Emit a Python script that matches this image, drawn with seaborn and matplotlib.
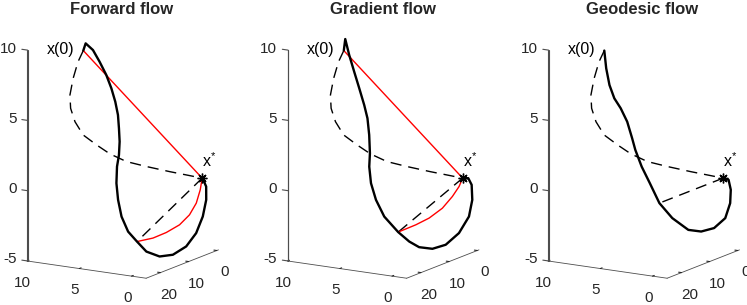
import matplotlib
matplotlib.use('Agg')  # Use non-GUI backend
import matplotlib.pyplot as plt
import seaborn as sns
import numpy as np

sns.set_style('white')
plt.rcParams['font.family'] = ['Liberation Sans', 'DejaVu Sans']
plt.rcParams['mathtext.fontset'] = 'custom'
plt.rcParams['mathtext.rm'] = 'Liberation Sans'
plt.rcParams['axes.unicode_minus'] = False

W, H = 747, 305

titles = ['Forward flow', 'Gradient flow', 'Geodesic flow']
x_ticks = [0, 5, 10]
y_ticks = [0, 10, 20]
z_ticks = [-5, 0, 5, 10]

start_pt = [6.0, 20.0, 10.0]   # x(0)
opt_pt = [0.0, 0.0, 0.0]       # x*

# dashed reference path from x(0) to x* (same in every panel)
ref_x = [6.0, 6.83, 7.70, 8.44, 8.70, 8.63, 8.22, 7.37, 6.47, 5.34, 3.94, 2.30, 0.88, 0.0]
ref_y = [20.0, 18.8, 17.3, 15.7, 14.5, 13.2, 11.8, 10.2, 8.8, 7.1, 5.2, 3.0, 1.2, 0.0]
ref_z = [10.0, 9.02, 7.63, 6.24, 5.17, 4.12, 3.11, 2.37, 1.72, 1.16, 0.81, 0.45, 0.18, 0.0]

# forward flow trajectory
fwd_x = [6.0, 5.89, 5.34, 4.91, 4.50, 4.23, 4.07, 4.02, 4.13, 4.27, 4.54, 4.91, 5.22, 5.32,
         5.25, 4.87, 4.25, 3.54, 2.49, 1.42, 0.39, -0.31, -0.67, -0.74, -0.53, -0.18, 0.0]
fwd_y = [20.0, 19.57, 19.01, 18.24, 17.39, 16.59, 15.79, 15.02, 14.26, 13.50, 12.74, 12.06,
         11.12, 10.16, 9.19, 8.26, 7.40, 6.70, 5.89, 5.13, 4.23, 3.28, 2.26, 1.30, 0.54, 0.17, 0.0]
fwd_z = [10.0, 10.49, 10.03, 9.18, 8.22, 7.24, 6.24, 5.24, 4.22, 3.20, 2.16, 1.24, -0.05,
         -1.32, -2.58, -3.68, -4.39, -5.08, -5.38, -5.20, -4.57, -3.62, -2.48, -1.36, -0.50, -0.14, 0.0]
fwd_hit = 16
fwd_arc_x = [0.0, -0.06, 0.04, 0.41, 1.08, 2.04, 3.03, 4.25]
fwd_arc_y = [0.0, 0.90, 1.94, 2.98, 4.03, 5.17, 6.24, 7.40]
fwd_arc_z = [0.0, -0.75, -1.63, -2.42, -3.12, -3.68, -4.10, -4.39]

# gradient flow trajectory
grad_x = [6.0, 6.05, 5.92, 5.71, 5.49, 5.28, 5.18, 5.27, 5.48, 5.75, 5.84, 5.63, 5.12, 4.09,
          3.26, 2.49, 1.42, 0.36, -0.64, -1.30, -1.36, -1.07, -0.63, 0.0]
grad_y = [20.0, 19.30, 18.37, 17.38, 16.40, 15.41, 14.63, 13.68, 12.64, 11.88, 10.93, 9.94,
          8.88, 7.75, 6.90, 6.24, 5.48, 4.69, 3.68, 2.58, 1.62, 0.77, 0.34, 0.0]
grad_z = [10.0, 10.76, 9.56, 8.32, 7.09, 5.84, 4.85, 3.58, 2.17, 1.13, -0.13, -1.37, -2.59,
          -3.67, -4.32, -4.69, -4.75, -4.41, -3.55, -2.39, -1.27, -0.30, 0.09, 0.0]
grad_hit = 13
grad_arc_x = [0.0, 0.13, 0.48, 1.07, 1.94, 2.85, 4.09]
grad_arc_y = [0.0, 0.80, 1.87, 3.24, 4.72, 6.05, 7.75]
grad_arc_z = [0.0, -0.55, -1.21, -2.00, -2.68, -3.15, -3.67]

# geodesic flow trajectory
geo_x = [6.0, 6.16, 6.16, 5.96, 5.57, 5.22, 5.07, 4.99, 4.71, 4.27, 3.77, 2.90, 1.73, 0.74,
         -0.25, -1.04, -1.22, -1.03, -0.63, 0.0]
geo_y = [20.0, 18.73, 17.57, 16.59, 15.77, 14.75, 13.56, 12.72, 11.49, 10.22, 8.69, 7.33,
         5.96, 5.07, 4.15, 3.11, 2.03, 1.11, 0.41, 0.0]
geo_z = [10.0, 8.62, 7.34, 6.34, 5.61, 4.61, 3.36, 2.47, 1.21, -0.02, -1.50, -2.58, -3.40,
         -3.48, -3.20, -2.49, -1.49, -0.63, -0.02, 0.0]
geo_hit = 10

panels = [
    ((fwd_x, fwd_y, fwd_z), (fwd_arc_x, fwd_arc_y, fwd_arc_z), fwd_hit),
    ((grad_x, grad_y, grad_z), (grad_arc_x, grad_arc_y, grad_arc_z), grad_hit),
    ((geo_x, geo_y, geo_z), None, geo_hit),
]

xlim, ylim, zlim = (-1.4, 10), (-0.6, 25.1), (-5, 10)
dash = (8, 5)
axis_col = '0.3'


def to_px(ax, pts):
    """Project 3D data points of a 3D axes to display pixels."""
    pts = np.asarray(pts, dtype=float)
    P = np.column_stack([pts, np.ones(len(pts))]) @ ax.get_proj().T
    return ax.transData.transform(P[:, :2] / P[:, 3:4])


fig = plt.figure(figsize=(W / 100, H / 100), dpi=100)
axes = []
for i, (path, arc, hit) in enumerate(panels):
    ax = fig.add_axes([0.02 + i * 0.33, 0.05, 0.3, 0.9], projection='3d')
    ax.computed_zorder = False
    ax.set_facecolor('none')
    px, py, pz = path

    ax.plot(ref_x, ref_y, ref_z, color='black', lw=1.0, dashes=dash)
    ax.plot([opt_pt[0], px[hit]], [opt_pt[1], py[hit]], [opt_pt[2], pz[hit]],
            color='black', lw=1.0, dashes=dash)
    if arc is not None:
        ax.plot([start_pt[0], opt_pt[0]], [start_pt[1], opt_pt[1]], [start_pt[2], opt_pt[2]],
                color='red', lw=1.0)
        ax.plot(*arc, color='red', lw=1.0)
    ax.plot(px, py, pz, color='black', lw=1.7, solid_joinstyle='round')
    ax.plot([opt_pt[0]], [opt_pt[1]], [opt_pt[2]], ls='none', marker=(8, 2, 0),
            ms=7, mew=1.0, color='black')

    ax.text(start_pt[0] + 0.85, start_pt[1], start_pt[2], 'x(0)', ha='right', va='center',
            fontsize=11.5, color='black')
    ax.text(opt_pt[0], opt_pt[1], opt_pt[2] + 0.8, 'x$^{*}$', ha='left', va='baseline',
            fontsize=11.5, color='black')

    # z axis: line a hair inside the left front edge, short ticks and labels
    zx, zy = xlim[1] - 0.02, ylim[1] - 0.05
    ax.plot([zx, zx], [zy, zy], zlim, color=axis_col, lw=0.8, clip_on=False)
    for t in z_ticks:
        ax.plot([zx, zx + 0.55], [zy, zy], [t, t], color=axis_col, lw=0.8, clip_on=False)
        ax.text(xlim[1] + 1.0, ylim[1], t, str(t), ha='right', va='center', fontsize=11,
                color='0.15')

    ax.set_proj_type('ortho')
    ax.view_init(elev=13.8, azim=121.3)
    ax.set_box_aspect((1, 1, 1.56))
    ax.set_xlim(*xlim)
    ax.set_ylim(*ylim)
    ax.set_zlim(*zlim)
    ax.set_xticks(x_ticks)
    ax.set_yticks(y_ticks)
    ax.set_zticks([])
    ax.grid(False)
    for axis in (ax.xaxis, ax.yaxis, ax.zaxis):
        axis.set_pane_color((1, 1, 1, 0))
        axis.pane.set_edgecolor((1, 1, 1, 0))
        axis.line.set_color(axis_col)
        axis.line.set_linewidth(0.6)
        axis.offsetText.set_visible(False)
        axis._axinfo['tick']['inward_factor'] = 0.0
        axis._axinfo['tick']['outward_factor'] = 0.3
        axis.set_tick_params(colors='0.15', labelsize=11, width=0.6)
    ax.zaxis.line.set_visible(False)
    ax.xaxis.set_tick_params(pad=-1.5)
    ax.yaxis.set_tick_params(pad=-1)
    axes.append(ax)

    fig.text([122, 383, 642.5][i] / W, 1 - 14 / H, titles[i], ha='center', va='baseline',
             fontsize=12, fontweight='bold')

# place each 3D box so its corners land where the reference has them
fig.canvas.draw()
box_pts = np.array([[xlim[1], ylim[1], zlim[0]],
                    [xlim[0], ylim[0], zlim[0]],
                    [xlim[1], ylim[1], zlim[1]]])
for ax, off in zip(axes, [0.0, 260.5, 521.0]):
    tgt = np.array([[27.3 + off, 261.0], [218.3 + off, 250.0], [27.3 + off, 50.0]])
    tgt[:, 1] = H - tgt[:, 1]
    src = to_px(ax, box_pts)
    bb = ax.get_position()
    side = bb.width * W
    ctr = np.array([(bb.x0 + bb.width / 2) * W, (bb.y0 + bb.height / 2) * H])
    u = (src - ctr) / side
    um, tm = u.mean(0), tgt.mean(0)
    s = ((u - um) * (tgt - tm)).sum() / ((u - um) ** 2).sum()
    c = tm - s * um
    ax.set_position([(c[0] - s / 2) / W, (c[1] - s / 2) / H, s / W, s / H])

# second copy of the z axis line on a transparent overlay, in pixel units
fig.canvas.draw()
overlay = fig.add_axes([0, 0, 1, 1], zorder=10)
overlay.set_xlim(0, W)
overlay.set_ylim(0, H)
overlay.axis('off')
overlay.patch.set_alpha(0)
for ax in axes:
    ends = to_px(ax, [[xlim[1], ylim[1], zlim[0]], [xlim[1], ylim[1], zlim[1]]])
    overlay.plot(ends[:, 0], ends[:, 1], color=axis_col, lw=0.8, clip_on=False)

plt.savefig('out.png', dpi=100)
